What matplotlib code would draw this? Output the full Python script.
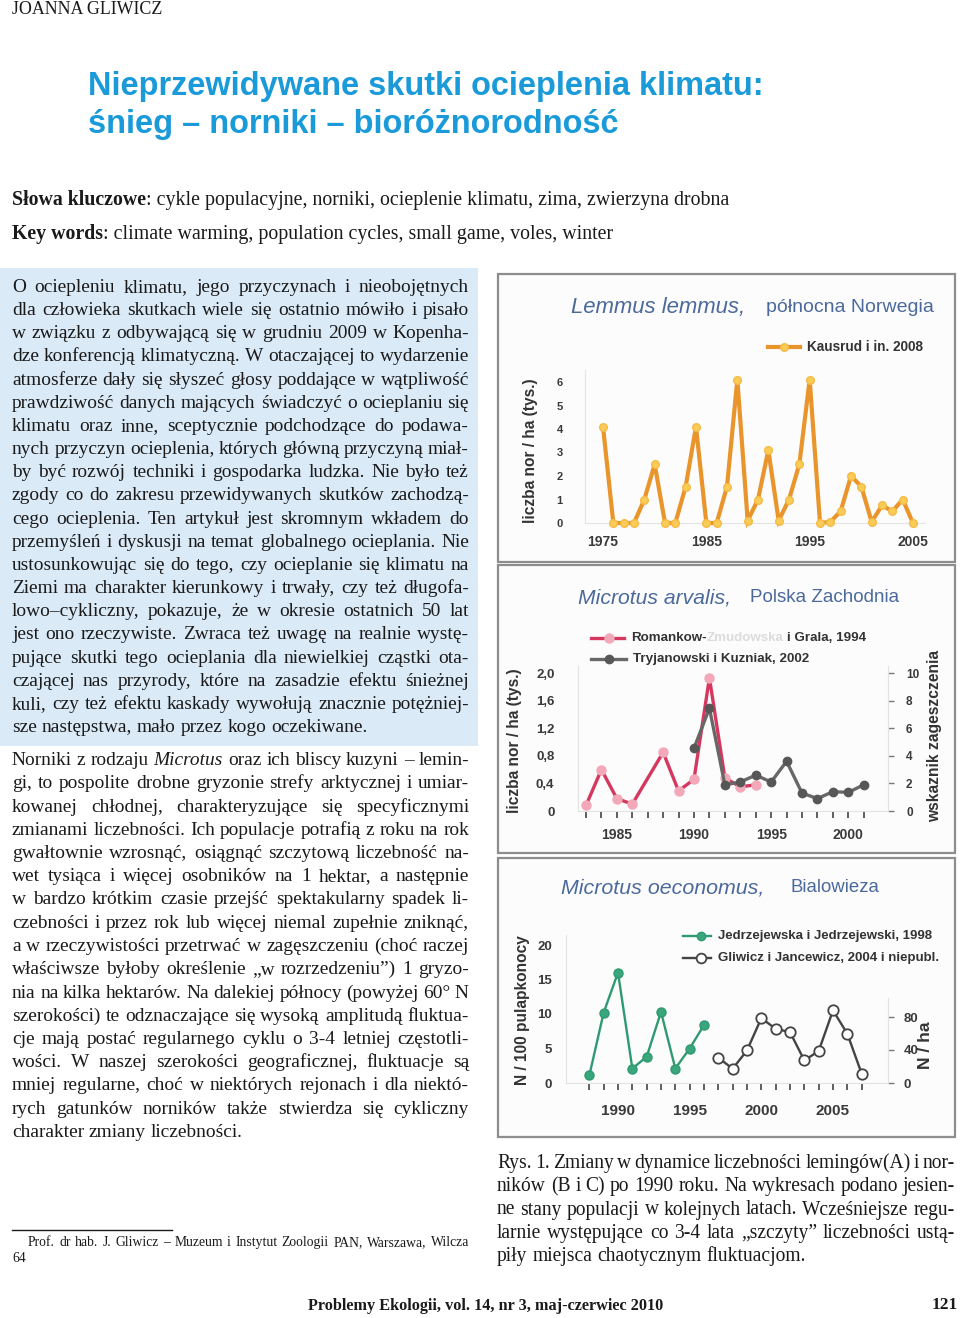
import matplotlib
matplotlib.use("Agg")
import matplotlib.pyplot as plt
from matplotlib.lines import Line2D
from matplotlib.patches import Rectangle

W, H = 960, 1318

# chart data
lemmus_years = list(range(1975, 2006))
lemmus_holes = [4.1, 0, 0, 0, 1.0, 2.5, 0, 0, 1.55, 4.1, 0, 0, 1.55, 6.1, 0.1, 1.0,
                3.1, 0.1, 1.0, 2.5, 6.1, 0, 0.05, 0.5, 2.0, 1.55, 0.05, 0.75, 0.5, 1.0, 0]

arv_rz_years = [1983, 1984, 1985, 1986, 1988, 1989, 1990, 1991, 1992, 1993, 1994]
arv_rz = [0.08, 0.6, 0.18, 0.1, 0.85, 0.29, 0.46, 1.93, 0.48, 0.35, 0.38]
arv_tk_years = list(range(1990, 2002))
arv_tk = [4.55, 7.45, 1.9, 2.1, 2.6, 2.1, 3.6, 1.3, 0.9, 1.4, 1.35, 1.9]

oec_jj_years = list(range(1988, 1997))
oec_jj = [1.1, 10.2, 16.0, 2.1, 3.8, 10.3, 2.1, 5.0, 8.4]
oec_gj_years = list(range(1997, 2008))
oec_gj = [30.7, 17.3, 39.5, 78.6, 65.7, 61.7, 27.4, 38.7, 88.0, 59.7, 11.3]

arv_left_ticks = [0, 0.4, 0.8, 1.2, 1.6, 2.0]
arv_left_labels = ['0', '0,4', '0,8', '1,2', '1,6', '2,0']

# page text
intro_lines = [
    "O ociepleniu klimatu, jego przyczynach i nieobojętnych",
    "dla człowieka skutkach wiele się ostatnio mówiło i pisało",
    "w związku z odbywającą się w grudniu 2009 w Kopenha-",
    "dze konferencją klimatyczną. W otaczającej to wydarzenie",
    "atmosferze dały się słyszeć głosy poddające w wątpliwość",
    "prawdziwość danych mających świadczyć o ocieplaniu się",
    "klimatu oraz inne, sceptycznie podchodzące do podawa-",
    "nych przyczyn ocieplenia, których główną przyczyną miał-",
    "by być rozwój techniki i gospodarka ludzka. Nie było też",
    "zgody co do zakresu przewidywanych skutków zachodzą-",
    "cego ocieplenia. Ten artykuł jest skromnym wkładem do",
    "przemyśleń i dyskusji na temat globalnego ocieplania. Nie",
    "ustosunkowując się do tego, czy ocieplanie się klimatu na",
    "Ziemi ma charakter kierunkowy i trwały, czy też długofa-",
    "lowo–cykliczny, pokazuje, że w okresie ostatnich 50 lat",
    "jest ono rzeczywiste. Zwraca też uwagę na realnie wystę-",
    "pujące skutki tego ocieplania dla niewielkiej cząstki ota-",
    "czającej nas przyrody, które na zasadzie efektu śnieżnej",
    "kuli, czy też efektu kaskady wywołują znacznie potężniej-",
    "sze następstwa, mało przez kogo oczekiwane.",
]
body_lines = [
    "Norniki z rodzaju *Microtus* oraz ich bliscy kuzyni – lemin-",
    "gi, to pospolite drobne gryzonie strefy arktycznej i umiar-",
    "kowanej chłodnej, charakteryzujące się specyficznymi",
    "zmianami liczebności. Ich populacje potrafią z roku na rok",
    "gwałtownie wzrosnąć, osiągnąć szczytową liczebność na-",
    "wet tysiąca i więcej osobników na 1 hektar, a następnie",
    "w bardzo krótkim czasie przejść spektakularny spadek li-",
    "czebności i przez rok lub więcej niemal zupełnie zniknąć,",
    "a w rzeczywistości przetrwać w zagęszczeniu (choć raczej",
    "właściwsze byłoby określenie „w rozrzedzeniu”) 1 gryzo-",
    "nia na kilka hektarów. Na dalekiej północy (powyżej 60° N",
    "szerokości) te odznaczające się wysoką amplitudą fluktua-",
    "cje mają postać regularnego cyklu o 3-4 letniej częstotli-",
    "wości. W naszej szerokości geograficznej, fluktuacje są",
    "mniej regularne, choć w niektórych rejonach i dla niektó-",
    "rych gatunków norników także stwierdza się cykliczny",
    "charakter zmiany liczebności.",
]
caption_lines = [
    "Rys. 1. Zmiany w dynamice liczebności lemingów(A) i nor-",
    "ników (B i C) po 1990 roku. Na wykresach podano jesien-",
    "ne stany populacji w kolejnych latach. Wcześniejsze regu-",
    "larnie występujące co 3-4 lata „szczyty” liczebności ustą-",
    "piły miejsca chaotycznym fluktuacjom.",
]

plt.rcParams['font.family'] = ['Liberation Sans', 'DejaVu Sans']
SERIF = ['Liberation Serif', 'DejaVu Serif']
INK = '#1a1a1a'
TICK = '#3a3a3a'
CHART_BLUE = '#4b6a9b'

fig = plt.figure(figsize=(W / 100, H / 100), dpi=100)
renderer = fig.canvas.get_renderer()


def px(x, y):
    return x / W, 1 - y / H


def width_of(s, size, **kw):
    t = fig.text(0, 0, s, fontsize=size, **kw)
    w = t.get_window_extent(renderer).width
    t.remove()
    return w


def fitted(s, width, **kw):
    return 10 * width / width_of(s, 10, **kw)


def put(x, y, s, size, **kw):
    kw.setdefault('va', 'center')
    return fig.text(*px(x, y), s, fontsize=size, **kw)


def justify(lines, x0, x1, y0, step, size, last_left=True):
    space = size * 100 / 72 * 0.25
    for i, line in enumerate(lines):
        objs = []
        for w in line.split(' '):
            style = 'normal'
            if w.startswith('*'):
                style = 'italic'
                w = w.replace('*', '')
            objs.append(fig.text(0, 0, w, fontsize=size, family=SERIF, style=style,
                                 color=INK, va='baseline'))
        ws = [t.get_window_extent(renderer).width for t in objs]
        if (last_left and i == len(lines) - 1) or len(objs) == 1:
            gap = space
        else:
            gap = (x1 - x0 - sum(ws)) / (len(objs) - 1)
        x = x0
        for t, w in zip(objs, ws):
            t.set_position(px(x, y0 + i * step))
            x += w + gap


def box(x0, y0, x1, y1, **kw):
    fig.add_artist(Rectangle(px(x0, y1), (x1 - x0) / W, (y1 - y0) / H,
                             transform=fig.transFigure, **kw))


def panel_axes(x0, y0, x1, y1):
    ax = fig.add_axes([x0 / W, 1 - y1 / H, (x1 - x0) / W, (y1 - y0) / H])
    ax.patch.set_visible(False)
    return ax


def cal(p0, v0, p1, v1, a0, a1):
    # pixel p0 -> v0, p1 -> v1 ; give the data limits for an axis spanning a0..a1
    k = (v1 - v0) / (p1 - p0)
    return v0 + (a0 - p0) * k, v0 + (a1 - p0) * k


def legend_row(x0, xm, x1, y, parts, size, **kw):
    fig.add_artist(Line2D([x0 / W, xm / W, x1 / W], [1 - y / H] * 3, transform=fig.transFigure,
                          markevery=[1], **kw))
    x = x1 + 7
    gap = size * 100 / 72 * 0.28
    for s, col in parts:
        put(x, y, s, size, color=col, weight='bold')
        x += width_of(s, size, weight='bold') + (0 if s.endswith('-') else gap)


def style_ticks(labels, size):
    for t in labels:
        t.set_fontweight('bold')
        t.set_fontsize(size)
        t.set_color(TICK)


# ---------------- page furniture ----------------
box(0, 268, 478, 746, facecolor='#dbeaf7', edgecolor='none', zorder=-2)

put(12, 9, "JOANNA GLIWICZ", fitted("JOANNA GLIWICZ", 151, family=SERIF), family=SERIF, color=INK)

t_size = fitted("Nieprzewidywane skutki ocieplenia klimatu:", 676, weight='bold')
put(88, 87, "Nieprzewidywane skutki ocieplenia klimatu:", t_size, weight='bold', color='#1a9ad8')
put(88, 124, "śnieg – norniki – bioróżnorodność", t_size, weight='bold', color='#1a9ad8')

kw_rest = ": cykle populacyjne, norniki, ocieplenie klimatu, zima, zwierzyna drobna"
k_size = 10 * 716 / (width_of("Słowa kluczowe", 10, family=SERIF, weight='bold')
                     + width_of(kw_rest, 10, family=SERIF))
put(12, 200, "Słowa kluczowe", k_size, family=SERIF, weight='bold', color=INK)
put(12 + width_of("Słowa kluczowe", k_size, family=SERIF, weight='bold'), 200, kw_rest,
    k_size, family=SERIF, color=INK)
put(12, 234, "Key words", k_size, family=SERIF, weight='bold', color=INK)
put(12 + width_of("Key words", k_size, family=SERIF, weight='bold'), 234,
    ": climate warming, population cycles, small game, voles, winter", k_size, family=SERIF, color=INK)

b_size = fitted(intro_lines[3], 457, family=SERIF)
justify(intro_lines, 12, 469, 292, 23.16, b_size)
justify(body_lines, 12, 469, 765, 23.25, b_size)

c_size = fitted(caption_lines[1], 458, family=SERIF)
justify(caption_lines, 497, 955, 1168, 23.25, c_size)

fig.add_artist(Line2D([12 / W, 172 / W], [1 - 1230 / H] * 2, transform=fig.transFigure, color=INK, lw=1))
foot = ["Prof. dr hab. J. Gliwicz – Muzeum i Instytut Zoologii PAN, Warszawa, Wilcza"]
f_size = fitted(foot[0], 441, family=SERIF) * 0.97
justify(foot, 28, 469, 1246, 17, f_size, last_left=False)
put(12, 1259, "64", f_size, family=SERIF, color=INK)

p_line = "Problemy Ekologii, vol. 14, nr 3, maj-czerwiec 2010"
put(308, 1306, p_line, fitted(p_line, 356, family=SERIF, weight='bold'), family=SERIF, weight='bold', color=INK)
put(958, 1305, "121", fitted("121", 26, family=SERIF, weight='bold'), family=SERIF, weight='bold',
    color=INK, ha='right')

# panel frames
for x0, y0, x1, y1 in [(498, 274, 955, 562), (498, 565, 955, 853), (498, 858, 955, 1137)]:
    box(x0, y0, x1, y1, facecolor='#fcfcfc', edgecolor='#8d8d8d', lw=1.6, zorder=-1)


def chart_title(x0, x1, x2, x3, y, species, place):
    put(x0, y, species, fitted(species, x1 - x0, style='italic'), style='italic', color=CHART_BLUE)
    put(x2, y, place, fitted(place, x3 - x2), color=CHART_BLUE)


def side_label(x, y, length, s):
    put(x, y, s, fitted(s, length, weight='bold'), weight='bold', color='#333333',
        rotation=90, ha='center', va='center')


# ---------------- A: Lemmus lemmus ----------------
chart_title(571, 746, 766, 933, 308, "Lemmus lemmus,", "północna Norwegia")
axA = panel_axes(585, 365, 925, 530)
axA.set_xlim(cal(603, 1975, 913, 2005, 585, 925))
axA.set_ylim(cal(523, 0, 382, 6, 530, 365))
axA.plot(lemmus_years, lemmus_holes, color='#e9952c', lw=3, solid_joinstyle='miter',
         marker='o', ms=5.5, mfc='#f9cb57', mec='#f6bb46', zorder=3, clip_on=False)
for s in ['top', 'right']:
    axA.spines[s].set_visible(False)
for s in ['left', 'bottom']:
    axA.spines[s].set_color('#e4e4e4')
axA.spines['bottom'].set_position(('data', 0))
axA.spines['left'].set_bounds(0, 6.5)
axA.set_xticks([1975, 1985, 1995, 2005])
axA.set_yticks(range(7))
axA.tick_params(axis='x', length=0, pad=9)
axA.tick_params(axis='y', length=0, pad=16)
style_ticks(axA.get_xticklabels(), 10)
style_ticks(axA.get_yticklabels(), 8)
side_label(531, 451, 145, "liczba nor / ha (tys.)")
legend_row(768, 784, 800, 347, [("Kausrud i in. 2008", '#333333')],
           fitted("Kausrud i in. 2008", 117, weight='bold'),
           color='#e9952c', lw=3, marker='o', ms=5.5, mfc='#f9cb57', mec='#f6bb46')

# ---------------- B: Microtus arvalis ----------------
chart_title(578, 731, 750, 900, 598, "Microtus arvalis,", "Polska Zachodnia")
axB = panel_axes(578, 665, 888, 815)
axB.set_xlim(cal(694, 1990, 848.3, 2000, 578, 888))
lo, hi = cal(811, 0, 673, 2, 815, 665)
axB.set_ylim(lo, hi)
axB2 = axB.twinx()
axB2.set_ylim(5 * lo, 5 * hi)
axB.plot(arv_rz_years, arv_rz, color='#d5375f', lw=2.4, marker='o', ms=6.5,
         mfc='#f2a8b8', mec='#f2a8b8', zorder=3)
axB2.plot(arv_tk_years, arv_tk, color='#686868', lw=2.4, marker='o', ms=6,
          mfc='#575757', mec='#575757', zorder=3)
for s in ['top', 'right']:
    axB.spines[s].set_visible(False)
for s in ['top', 'left', 'bottom']:
    axB2.spines[s].set_visible(False)
for sp in [axB.spines['left'], axB.spines['bottom'], axB2.spines['right']]:
    sp.set_color('#e2e2e2')
axB.spines['bottom'].set_position(('data', 0))
axB.spines['left'].set_bounds(0, 2.1)
axB2.spines['right'].set_bounds(0, 10.5)
axB.set_xticks(range(1983, 2002))
axB.set_xticklabels([str(y) if y % 5 == 0 else '' for y in range(1983, 2002)])
axB.set_yticks(arv_left_ticks)
axB.set_yticklabels(arv_left_labels)
axB2.set_yticks(range(0, 11, 2))
axB.tick_params(axis='x', length=5, width=1.2, color='#444444', pad=7)
axB.tick_params(axis='y', length=0, pad=17)
axB2.tick_params(axis='y', length=4, width=1, color='#777777', pad=9)
style_ticks(axB.get_xticklabels(), 10)
style_ticks(axB.get_yticklabels(), 9.5)
style_ticks(axB2.get_yticklabels(), 8.5)
side_label(515, 741, 145, "liczba nor / ha (tys.)")
side_label(935, 736, 172, "wskaznik zageszczenia")
lg_size = fitted("Romankow-Zmudowska i Grala, 1994", 235, weight='bold')
legend_row(591, 609, 624, 638,
           [("Romankow-", '#333333'), ("Zmudowska", '#dcdcdc'), ("i Grala, 1994", '#333333')],
           lg_size, color='#d5375f', lw=2.4, marker='o', ms=6.5, mfc='#f2a8b8', mec='#f2a8b8')
legend_row(591, 609, 626, 659, [("Tryjanowski i Kuzniak, 2002", '#333333')],
           lg_size, color='#686868', lw=2.4, marker='o', ms=6, mfc='#575757', mec='#575757')

# ---------------- C: Microtus oeconomus ----------------
chart_title(561, 765, 791, 880, 888, "Microtus oeconomus,", "Bialowieza")
axC = panel_axes(566, 933, 888, 1085)
axC.set_xlim(cal(618, 1990, 833, 2005, 566, 888))
axC.set_ylim(cal(1083, 0, 945, 20, 1085, 933))
axC2 = axC.twinx()
axC2.set_ylim(cal(1083, 0, 1017, 80, 1085, 933))
axC.plot(oec_jj_years, oec_jj, color='#2f9a71', lw=1.7, marker='o', ms=6.5,
         mfc='#3aa67b', mec='#2f9a71', zorder=3)
axC2.plot(oec_gj_years, oec_gj, color='#444444', lw=1.7, marker='o', ms=7.5,
          mfc='white', mec='#444444', mew=1.3, zorder=3)
for s in ['top', 'right']:
    axC.spines[s].set_visible(False)
for s in ['top', 'left', 'bottom']:
    axC2.spines[s].set_visible(False)
for sp in [axC.spines['left'], axC.spines['bottom'], axC2.spines['right']]:
    sp.set_color('#e2e2e2')
axC.spines['bottom'].set_position(('data', 0))
axC.spines['left'].set_bounds(0, 21.5)
axC2.spines['right'].set_bounds(0, 103)
axC.set_xticks(range(1988, 2008))
axC.set_xticklabels([str(y) if y % 5 == 0 else '' for y in range(1988, 2008)])
axC.set_yticks(range(0, 21, 5))
axC2.set_yticks([0, 40, 80])
axC.tick_params(axis='x', length=5, width=1.2, color='#444444', pad=10)
axC.tick_params(axis='y', length=0, pad=10)
axC2.tick_params(axis='y', length=4, width=1, color='#777777', pad=7)
style_ticks(axC.get_xticklabels(), 11)
style_ticks(axC.get_yticklabels(), 9.5)
style_ticks(axC2.get_yticklabels(), 9.5)
side_label(522, 1010, 150, "N / 100 pulapkonocy")
side_label(926, 1045, 47, "N / ha")
lc_size = fitted("Jedrzejewska i Jedrzejewski, 1998", 215, weight='bold')
legend_row(683, 701, 711, 936, [("Jedrzejewska i Jedrzejewski, 1998", '#333333')],
           lc_size, color='#2f9a71', lw=1.7, marker='o', ms=6, mfc='#3aa67b', mec='#2f9a71')
legend_row(683, 701, 711, 958, [("Gliwicz i Jancewicz, 2004 i niepubl.", '#333333')],
           lc_size, color='#444444', lw=1.7, marker='o', ms=7, mfc='white', mec='#444444', mew=1.3)

fig.savefig("out.png", dpi=100, facecolor='white')
